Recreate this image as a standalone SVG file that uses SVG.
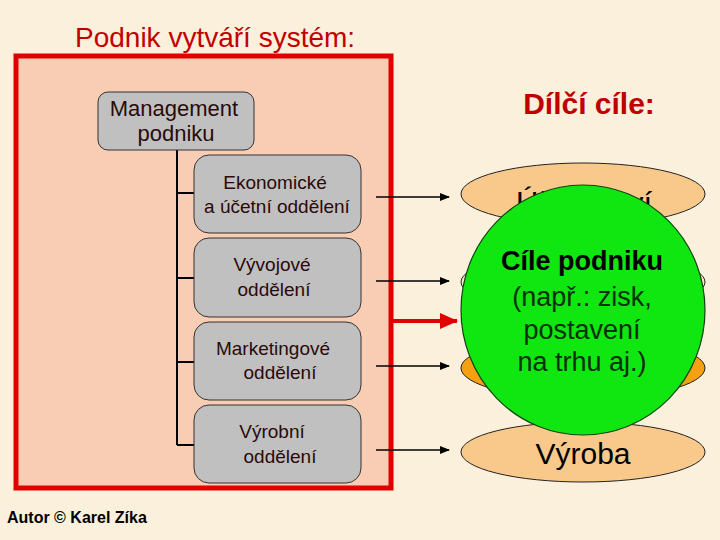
<svg xmlns="http://www.w3.org/2000/svg" width="720" height="540" viewBox="0 0 720 540">
<defs>
<style>
.t{font-family:"Liberation Sans",Arial,sans-serif}
.box{fill:#c0c0c0;stroke:#333333;stroke-width:1}
.bt{font-family:"Liberation Sans",Arial,sans-serif;font-size:19px;fill:#2a0a0a;text-anchor:middle}
.ln{stroke:#000;stroke-width:2;fill:none}
.ar{stroke:#000;stroke-width:1.5;fill:none}
.ell{stroke:#222;stroke-width:1}
.ct{font-family:"Liberation Sans",Arial,sans-serif;font-size:27px;fill:#063006;text-anchor:middle}
</style>
<marker id="ah" markerWidth="10" markerHeight="8" refX="9" refY="4" orient="auto" markerUnits="userSpaceOnUse">
<path d="M0,0 L10,4 L0,8 Z" fill="#000"/>
</marker>
<marker id="rah" markerWidth="18" markerHeight="16" refX="17" refY="8" orient="auto" markerUnits="userSpaceOnUse">
<path d="M0,0 L18,8 L0,16 Z" fill="#e00000"/>
</marker>
</defs>
<rect width="720" height="540" fill="#fbf0dc"/>
<text class="t" x="75" y="47" font-size="28" fill="#c00000">Podnik vytváří systém:</text>
<rect x="16" y="56" width="375" height="432" fill="#f9cdb4" stroke="#e00000" stroke-width="5"/>
<text class="t" x="589" y="114" font-size="30" font-weight="bold" fill="#c00000" text-anchor="middle">Dílčí cíle:</text>

<g id="connectors">
<path class="ln" d="M177,150 V445 M177,193 H194 M177,278 H194 M177,362 H194 M177,445 H194"/>
<path class="ar" d="M376,197 H449" marker-end="url(#ah)"/>
<path class="ar" d="M376,281 H449" marker-end="url(#ah)"/>
<path class="ar" d="M376,366 H449" marker-end="url(#ah)"/>
<path class="ar" d="M376,450 H449" marker-end="url(#ah)"/>
<path d="M391,321 H457" stroke="#e00000" stroke-width="4" fill="none" marker-end="url(#rah)"/>
</g>

<g id="management">
<rect class="box" x="98" y="92" width="156" height="58" rx="10"/>
<text class="t" x="174" y="116" font-size="22" fill="#2a0a0a" text-anchor="middle">Management</text>
<text class="t" x="176" y="141" font-size="22" fill="#2a0a0a" text-anchor="middle">podniku</text>
</g>
<g id="ekonomicke">
<rect class="box" x="194" y="155" width="167" height="78" rx="15"/>
<text class="bt" x="275" y="189">Ekonomické</text>
<text class="bt" x="277" y="213">a účetní oddělení</text>
</g>
<g id="vyvojove">
<rect class="box" x="194" y="238" width="167" height="79" rx="15"/>
<text class="bt" x="272" y="271">Vývojové</text>
<text class="bt" x="274" y="296">oddělení</text>
</g>
<g id="marketingove">
<rect class="box" x="194" y="322" width="167" height="78" rx="15"/>
<text class="bt" x="273" y="355">Marketingové</text>
<text class="bt" x="280" y="379">oddělení</text>
</g>
<g id="vyrobni">
<rect class="box" x="194" y="405" width="167" height="78" rx="15"/>
<text class="bt" x="272" y="438">Výrobní</text>
<text class="bt" x="280" y="463">oddělení</text>
</g>

<g id="ucetnictvi">
<ellipse class="ell" cx="583" cy="194" rx="122" ry="31" fill="#f9c98c"/>
<text class="t" x="584" y="214" font-size="31" fill="#000" text-anchor="middle">Účetnictví</text>
</g>
<g id="cil2">
<ellipse class="ell" cx="583" cy="282" rx="122" ry="30" fill="#fbe6c4"/>
</g>
<g id="cil3">
<ellipse class="ell" cx="583" cy="368" rx="122" ry="31" fill="#f5a010"/>
</g>
<g id="vyroba">
<ellipse class="ell" cx="583" cy="452" rx="122" ry="30" fill="#f9c98c"/>
<text class="t" x="583" y="464" font-size="30" fill="#000" text-anchor="middle">Výroba</text>
</g>
<g id="cile">
<ellipse cx="583" cy="310" rx="122" ry="125" fill="#10e610" stroke="#114411" stroke-width="1.2"/>
<text class="t" x="582" y="270" font-size="27" font-weight="bold" fill="#000" text-anchor="middle">Cíle podniku</text>
<text class="ct" x="582" y="306">(např.: zisk,</text>
<text class="ct" x="582" y="339">postavení</text>
<text class="ct" x="582" y="371">na trhu aj.)</text>
</g>
<text class="t" x="7" y="523" font-size="16" font-weight="bold" fill="#000">Autor © Karel Zíka</text>
</svg>
